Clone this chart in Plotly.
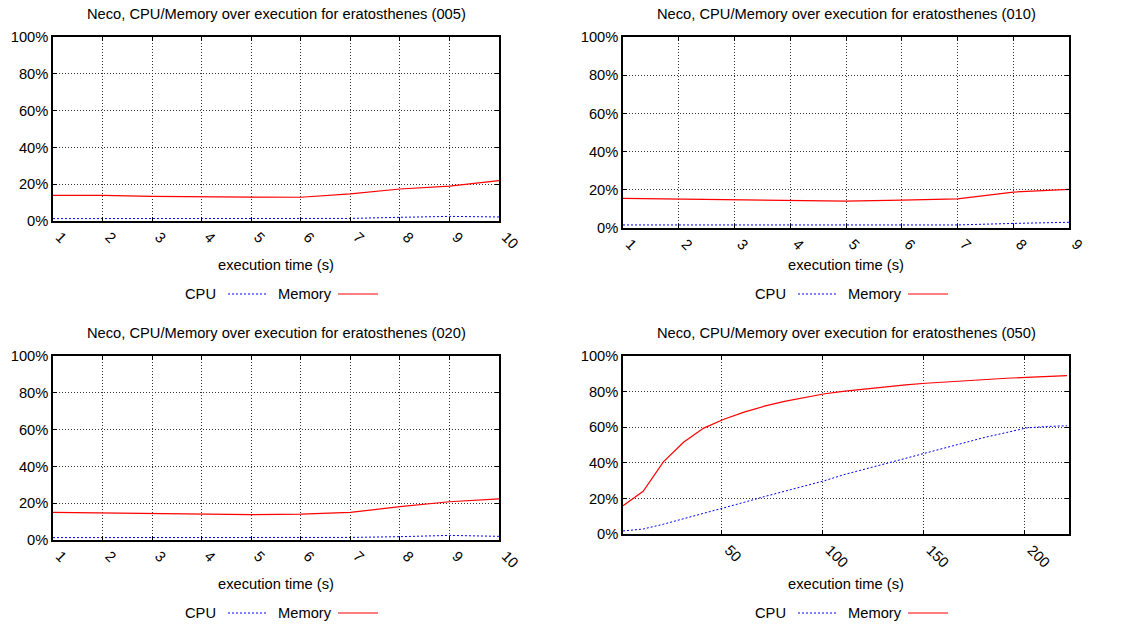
import plotly.graph_objects as go
from plotly.subplots import make_subplots

W, H = 1121, 626

# --- data: eratosthenes (005)
t_005 = [1, 2, 3, 4, 5, 6, 7, 8, 9, 10]
cpu_005 = [1.3, 1.3, 1.3, 1.3, 1.3, 1.3, 1.4, 2.0, 2.5, 2.2]
mem_005 = [13.9, 13.9, 13.4, 13.0, 13.0, 12.9, 14.7, 17.4, 19.0, 21.9]

# --- data: eratosthenes (010)
t_010 = [1, 2, 3, 4, 5, 6, 7, 8, 9]
cpu_010 = [1.6, 1.6, 1.6, 1.6, 1.6, 1.6, 1.6, 2.4, 3.0]
mem_010 = [15.5, 15.1, 14.8, 14.3, 14.1, 14.6, 15.3, 18.8, 20.2]

# --- data: eratosthenes (020)
t_020 = [1, 2, 3, 4, 5, 6, 7, 8, 9, 10]
cpu_020 = [1.3, 1.3, 1.3, 1.3, 1.3, 1.3, 1.4, 1.8, 2.5, 2.0]
mem_020 = [15.0, 14.7, 14.5, 14.1, 13.8, 14.1, 15.0, 18.1, 20.8, 22.3]

# --- data: eratosthenes (050)
t_050 = [1, 11, 21, 31, 41, 51, 61, 71, 81, 91, 101, 111,
         121, 131, 141, 151, 161, 171, 181, 191, 201, 211, 221]
cpu_050 = [1.7, 2.8, 5.5, 8.5, 11.5, 14.6, 17.8, 21.0, 24.0, 27.0, 30.0, 33.5,
           36.5, 39.5, 42.5, 45.8, 48.6, 51.5, 54.5, 57.0, 59.6, 60.4, 60.8]
mem_050 = [15.9, 24.0, 40.5, 51.5, 59.5, 64.5, 68.5, 71.8, 74.5, 76.8, 78.8, 80.3,
           81.6, 82.8, 83.8, 84.7, 85.5, 86.3, 86.9, 87.5, 88.0, 88.5, 89.0]

panels = [
    ("005", t_005, cpu_005, mem_005, [1, 10], list(range(1, 11))),
    ("010", t_010, cpu_010, mem_010, [1, 9], list(range(1, 10))),
    ("020", t_020, cpu_020, mem_020, [1, 10], list(range(1, 11))),
    ("050", t_050, cpu_050, mem_050, [1, 222], [50, 100, 150, 200]),
]

# plot boxes in pixels: (left, right, top, bottom)
boxes = [(53, 499, 37, 221), (623, 1069, 37, 228),
         (53, 499, 356, 540), (623, 1069, 356, 534)]
title_y = [14, 14, 333, 333]
xtitle_y = [265, 265, 584, 584]
legend_y = [294, 294, 613, 613]


def px(x):
    return x / W


def py(y):
    return 1 - y / H


FONT = "Liberation Sans, Arial, sans-serif"
GRID_DASH = '1px,2px'
fig = make_subplots(rows=2, cols=2)

shapes = []
annotations = []
for i, (tag, t, cpu, mem, xr, xt) in enumerate(panels):
    r, c = i // 2 + 1, i % 2 + 1
    fig.add_trace(go.Scatter(x=t, y=cpu, mode='lines', name='CPU',
                             line=dict(color='#0000ff', width=1, dash='2px,2px'),
                             showlegend=False), row=r, col=c)
    fig.add_trace(go.Scatter(x=t, y=mem, mode='lines', name='Memory',
                             line=dict(color='#ff0000', width=1.2),
                             showlegend=False), row=r, col=c)
    l, rr, top, bot = boxes[i]
    fig.update_xaxes(domain=[px(l), px(rr)], range=xr, tickvals=xt, tickangle=45,
                     automargin=False, ticklabelshift=7,
                     showgrid=True, gridcolor='#333', griddash=GRID_DASH, gridwidth=1,
                     showline=True, linecolor='black', linewidth=1.5, mirror='ticks',
                     ticks='inside', ticklen=4, tickcolor='black',
                     zeroline=False, row=r, col=c)
    fig.update_yaxes(domain=[py(bot), py(top)], range=[0, 100], dtick=20, ticksuffix='%',
                     automargin=False,
                     showgrid=True, gridcolor='#333', griddash=GRID_DASH, gridwidth=1,
                     showline=True, linecolor='black', linewidth=1.5, mirror='ticks',
                     ticks='inside', ticklen=4, tickcolor='black',
                     zeroline=False, row=r, col=c)
    cx = (l + rr) / 2
    annotations.append(dict(x=px(cx), y=py(title_y[i]), xref='paper', yref='paper',
                            text=f"Neco, CPU/Memory over execution for eratosthenes ({tag})",
                            showarrow=False, xanchor='center', yanchor='middle'))
    annotations.append(dict(x=px(cx), y=py(xtitle_y[i]), xref='paper', yref='paper',
                            text="execution time (s)", showarrow=False,
                            xanchor='center', yanchor='middle'))
    # gnuplot style key: label then line sample
    ly = legend_y[i]
    annotations.append(dict(x=px(cx - 58), y=py(ly), xref='paper', yref='paper',
                            text="CPU", showarrow=False, xanchor='right', yanchor='middle'))
    annotations.append(dict(x=px(cx), y=py(ly), xref='paper', yref='paper',
                            text="Memory", showarrow=False, xanchor='left', yanchor='middle'))
    shapes.append(dict(type='line', xref='paper', yref='paper',
                       x0=px(cx - 48), x1=px(cx - 10), y0=py(ly), y1=py(ly),
                       line=dict(color='#0000ff', width=1, dash='2px,2px')))
    shapes.append(dict(type='line', xref='paper', yref='paper',
                       x0=px(cx + 62), x1=px(cx + 102), y0=py(ly), y1=py(ly),
                       line=dict(color='#ff0000', width=1.2)))

fig.update_layout(
    width=W, height=H,
    margin=dict(l=0, r=0, t=0, b=0),
    paper_bgcolor='white', plot_bgcolor='white',
    font=dict(family=FONT, size=14.7, color='black'),
    shapes=shapes, annotations=annotations,
)

# drop the default page margin so the figure sits at the window's corner
fig.write_html("out.html", config={'displayModeBar': False},
               post_script="document.body.style.margin='0';")
